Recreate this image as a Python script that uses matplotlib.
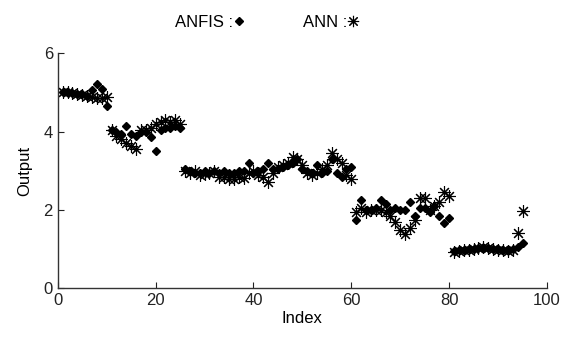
import matplotlib
matplotlib.use("Agg")
import matplotlib.pyplot as plt
import numpy as np

plt.rcParams['font.family'] = ['Liberation Sans', 'DejaVu Sans']

index = list(range(1, 96))

anfis = [5.0, 5.0, 4.98, 4.97, 4.95, 4.9, 5.05, 5.22, 5.08, 4.65,
         4.05, 4.0, 3.95, 4.15, 3.95, 3.9, 4.0, 4.0, 3.85, 3.5,
         4.05, 4.1, 4.1, 4.15, 4.1,
         3.05, 3.0, 2.95, 2.95, 3.0, 2.95, 3.0, 2.95, 3.0, 2.95,
         2.95, 3.0, 3.0, 3.2, 2.95, 3.0, 3.05, 3.2, 3.05, 3.05,
         3.1, 3.15, 3.2, 3.3, 3.05, 3.0, 2.95, 3.15, 2.95, 3.0,
         3.3, 2.95, 2.85, 3.05, 3.1,
         1.75, 2.25, 2.0, 2.0, 2.05, 2.25, 2.15, 2.0, 2.05, 2.0,
         2.0, 2.2, 1.85, 2.05, 2.05, 1.95, 2.1, 1.85, 1.68, 1.8,
         0.95, 0.97, 0.97, 1.0, 1.0, 1.02, 1.03, 1.02, 1.0, 1.0,
         0.98, 0.97, 1.0, 1.05, 1.15]

ann = [5.0, 5.0, 4.98, 4.95, 4.93, 4.9, 4.88, 4.85, 4.85, 4.88,
       4.05, 3.9, 3.8, 3.72, 3.62, 3.55, 4.05, 4.05, 4.1, 4.2,
       4.25, 4.3, 4.25, 4.3, 4.2,
       3.0, 2.95, 3.0, 2.9, 2.92, 2.95, 3.0, 2.85, 2.85, 2.8,
       2.8, 2.85, 2.82, 2.95, 3.0, 2.9, 2.85, 2.72, 2.95, 3.1,
       3.15, 3.2, 3.35, 3.3, 3.15, 2.95, 2.9, 2.95, 3.05, 3.15,
       3.45, 3.3, 3.2, 2.9, 2.78,
       1.95, 2.05, 1.95, 2.0, 2.0, 2.0, 1.95, 1.85, 1.7, 1.5,
       1.38, 1.55, 1.75, 2.3, 2.3, 2.0, 2.1, 2.2, 2.45, 2.35,
       0.93, 0.95, 0.97, 0.98, 1.0, 1.02, 1.05, 1.03, 1.0, 0.98,
       0.97, 0.95, 0.98, 1.42, 1.97]

xticks = [0, 20, 40, 60, 80, 100]
yticks = [0, 2, 4, 6]

fig = plt.figure(figsize=(5.61, 3.43), dpi=100)
ax = fig.add_axes([0.103, 0.159, 0.872, 0.686])

ax.plot(index, anfis, linestyle='none', marker='D', markersize=4,
        color='black', label='ANFIS :')
ax.plot(index, ann, linestyle='none', marker=(8, 2, 0), markersize=9,
        markeredgewidth=0.8, color='black', label='ANN :')

ax.set_xlim(0, 100)
ax.set_ylim(0, 6)
ax.set_xticks(xticks)
ax.set_yticks(yticks)
ax.spines['top'].set_visible(False)
ax.spines['right'].set_visible(False)
for s in ['left', 'bottom']:
    ax.spines[s].set_linewidth(1.0)
    ax.spines[s].set_color('#333333')
ax.tick_params(direction='in', length=4, labelsize=12, colors='#222222')
ax.set_xlabel('Index', fontsize=12, labelpad=2)
ax.set_ylabel('Output', fontsize=12, labelpad=8)

fig.legend(loc='upper center', bbox_to_anchor=(0.475, 1.0), ncol=2,
           frameon=False, markerfirst=False, fontsize=12,
           handlelength=0.6, handletextpad=0.1, columnspacing=3.5,
           markerscale=0.9)

fig.savefig('out.png', dpi=100)
